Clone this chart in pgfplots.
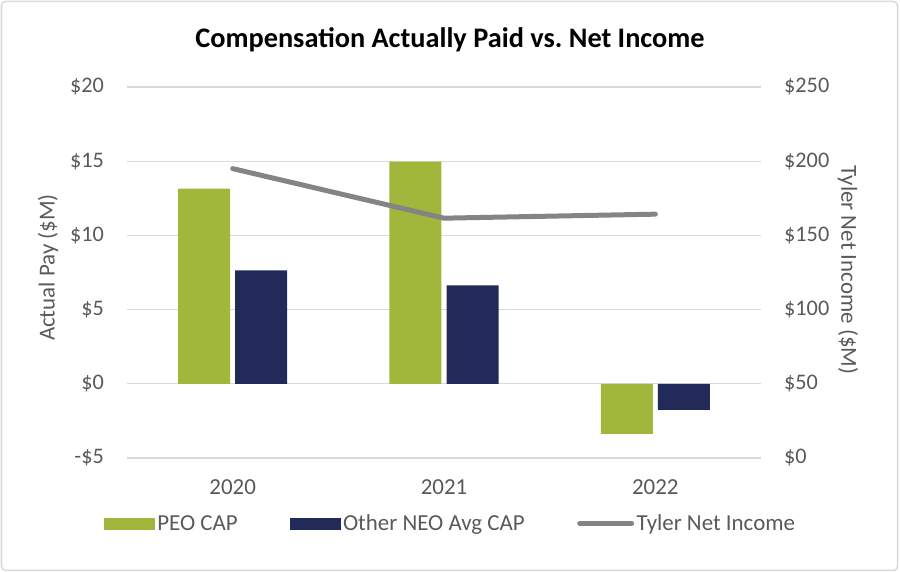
\documentclass[border=0pt]{standalone}
\usepackage{fontspec}
\setmainfont{Carlito}
\usepackage{pgfplots}
\pgfplotsset{compat=1.18}
\definecolor{peo}{HTML}{A0B73C}
\definecolor{neo}{HTML}{222A5A}
\definecolor{ni}{HTML}{848484}
\definecolor{gridc}{HTML}{D9D9D9}
\definecolor{txt}{HTML}{595959}
\definecolor{frame}{HTML}{D9D9D9}
\begin{document}
\begin{tikzpicture}[x=1bp,y=1bp]
\useasboundingbox (0,0) rectangle (900,572);
\draw[frame, line width=1.5bp, rounded corners=4bp] (1.5,1.5) rectangle (897.5,570.5);
\node[font=\bfseries\fontsize{28.4}{33}\selectfont, text=black] at (450,532) {Compensation Actually Paid vs.\ Net Income};
\begin{axis}[at={(127bp,114bp)}, anchor=south west, scale only axis,
  width=634bp, height=371bp,
  xmin=-0.5, xmax=2.5, ymin=-5, ymax=20,
  xtick={0,1,2}, xticklabels={2020,2021,2022},
  ytick={-5,0,5,10,15,20}, yticklabels={-\$5,\$0,\$5,\$10,\$15,\$20},
  axis line style={draw=none}, tick style={draw=none}, major tick length=0pt,
  ymajorgrids, grid style={gridc, line width=1.3bp},
  tick label style={font=\fontsize{22.3}{26}\selectfont, text=txt},
  xticklabel style={font=\fontsize{23}{27}\selectfont},
  yticklabel style={anchor=east, inner sep=0pt, xshift=-23bp},
  xticklabel style={anchor=center, inner sep=0pt, yshift=-29bp},
  every axis y label/.style={at={(axis description cs:-0.1246,0.513)}, anchor=center, rotate=90, font=\fontsize{23}{27}\selectfont, text=txt},
  ylabel={Actual Pay (\$M)},
]
\addplot[ybar, bar width=0.246, bar shift=-0.135, fill=peo, draw=none] coordinates {(0,13.15) (1,14.97) (2,-3.38)};
\addplot[ybar, bar width=0.246, bar shift=0.135, fill=neo, draw=none] coordinates {(0,7.64) (1,6.64) (2,-1.76)};
\end{axis}
\begin{axis}[at={(127bp,114bp)}, anchor=south west, scale only axis,
  width=634bp, height=371bp,
  xmin=-0.5, xmax=2.5, ymin=0, ymax=250,
  axis x line=none, axis y line*=right,
  ytick={0,50,100,150,200,250}, yticklabels={\$0,\$50,\$100,\$150,\$200,\$250},
  axis line style={draw=none}, tick style={draw=none}, major tick length=0pt,
  tick label style={font=\fontsize{22.3}{26}\selectfont, text=txt},
  yticklabel style={anchor=west, inner sep=0pt, xshift=23bp},
  every axis y label/.style={at={(axis description cs:1.137,0.507)}, anchor=center, rotate=-90, font=\fontsize{23}{27}\selectfont, text=txt},
  ylabel={Tyler Net Income (\$M)},
  legend columns=3,
  legend style={at={(axis description cs:0.511,-0.1765)}, anchor=center, draw=none, fill=none,
    font=\fontsize{23}{27}\selectfont, text=txt,
    nodes={inner xsep=2.5bp, inner ysep=1bp},
    /tikz/every even column/.append style={column sep=50bp}},
]
\addlegendimage{legend image code/.code={\fill[peo] (0bp,-5.5bp) rectangle (50bp,5.5bp);}}
\addlegendentry{PEO CAP}
\addlegendimage{legend image code/.code={\fill[neo] (0bp,-5.5bp) rectangle (50bp,5.5bp);}}
\addlegendentry{Other NEO Avg CAP}
\addplot[ni, line width=5bp, line cap=round, line join=round,
  legend image code/.code={\draw[ni, line width=5bp, line cap=round] (2bp,0bp) -- (54bp,0bp);}]
  coordinates {(0,195) (1,161.6) (2,164.3)};
\addlegendentry{Tyler Net Income}
\end{axis}
\end{tikzpicture}
\end{document}
